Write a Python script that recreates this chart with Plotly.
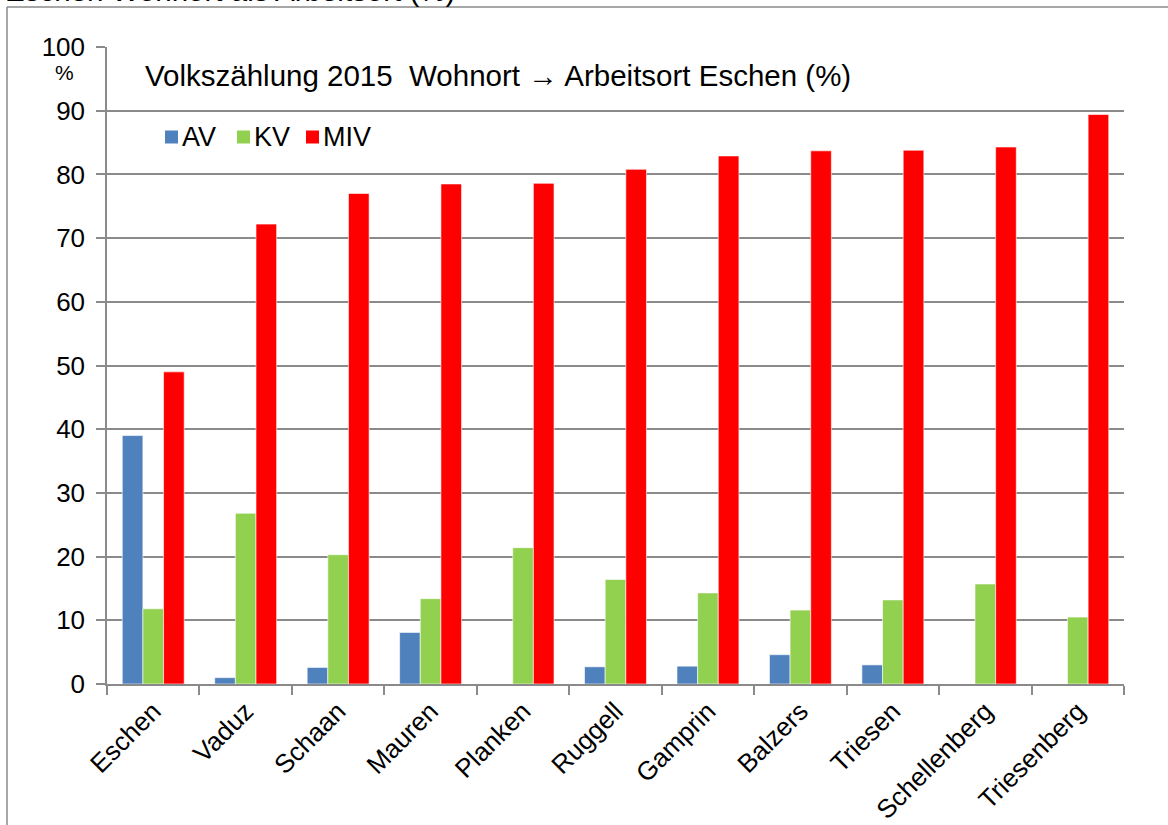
import plotly.graph_objects as go

# Gemeinden (Wohnort) und Anteile nach Verkehrsmittel in %
gemeinden = ["Eschen", "Vaduz", "Schaan", "Mauren", "Planken", "Ruggell",
             "Gamprin", "Balzers", "Triesen", "Schellenberg", "Triesenberg"]
av = [39.0, 1.0, 2.6, 8.1, 0.0, 2.7, 2.8, 4.6, 3.0, 0.0, 0.0]
kv = [11.8, 26.8, 20.3, 13.4, 21.4, 16.4, 14.3, 11.6, 13.2, 15.7, 10.5]
miv = [49.0, 72.2, 77.0, 78.5, 78.6, 80.8, 82.9, 83.7, 83.8, 84.3, 89.4]

serien = [("AV", av, "#4F81BD"), ("KV", kv, "#92D050"), ("MIV", miv, "#FF0000")]

W, H = 1168, 825
# plot area in pixels: x 107..1124, y 47..684
L, T = 107, 47
R, B = W - 1124, H - 684
pw, ph = W - L - R, H - T - B


def px(x):
    return (x - L) / pw


def py(y):
    return (H - B - y) / ph


FONT = "Liberation Sans, Arial, sans-serif"
GRID = "#8A8A8A"

fig = go.Figure()
for name, vals, col in serien:
    fig.add_trace(
        go.Bar(
            x=gemeinden,
            y=vals,
            name=name,
            marker=dict(color=col, line=dict(color="rgba(255,255,255,0.6)", width=1)),
            showlegend=False,
        )
    )

fig.update_layout(
    width=W,
    height=H,
    margin=dict(l=L, r=R, t=T, b=B),
    paper_bgcolor="white",
    plot_bgcolor="white",
    barmode="group",
    bargap=0.33,
    bargroupgap=0,
    font=dict(family=FONT, size=26, color="black"),
)

fig.update_yaxes(
    range=[0, 100],
    dtick=10,
    showgrid=True,
    gridcolor=GRID,
    gridwidth=1.5,
    showline=True,
    linecolor=GRID,
    linewidth=1.5,
    ticks="outside",
    ticklen=9,
    tickcolor=GRID,
    tickwidth=1.5,
    ticklabelstandoff=6,
    tickfont=dict(size=26),
    zeroline=False,
    automargin=False,
)
fig.update_xaxes(
    showline=True,
    linecolor=GRID,
    linewidth=1.5,
    ticks="outside",
    tickson="boundaries",
    ticklen=9,
    tickcolor=GRID,
    tickwidth=1.5,
    tickangle=-45,
    tickfont=dict(size=26),
    automargin=False,
)

# Legende (wie im Original: kleine Quadrate direkt vor dem Text)
fig.add_shape(type="rect", xref="paper", yref="paper", layer="between",
              x0=px(149), x1=px(379), y0=py(100), y1=py(162),
              fillcolor="white", line=dict(width=0))
leg_x = [165, 237, 306]
for (name, _, col), x0 in zip(serien, leg_x):
    fig.add_shape(type="rect", xref="paper", yref="paper",
                  x0=px(x0), x1=px(x0 + 13), y0=py(143.5), y1=py(130.5),
                  fillcolor=col, line=dict(width=0))
    fig.add_annotation(text=name, xref="paper", yref="paper",
                       x=px(x0 + 15), y=py(137), xanchor="left", yanchor="middle",
                       showarrow=False, font=dict(size=27))

# Titel im Diagramm
fig.add_annotation(
    text="Volkszählung 2015  Wohnort \u2192 Arbeitsort Eschen (%)",
    xref="paper", yref="paper", x=px(143), y=py(76),
    xanchor="left", yanchor="middle", showarrow=False,
    font=dict(size=29.5),
)
# Einheit unter der 100
fig.add_annotation(
    text="%", xref="paper", yref="paper", x=px(64), y=py(72),
    xanchor="center", yanchor="middle", showarrow=False,
    font=dict(size=21),
)
# abgeschnittener Text oberhalb des Rahmens
fig.add_annotation(
    text="Eschen Wohnort als Arbeitsort (%)",
    xref="paper", yref="paper", x=px(3), y=py(9),
    xanchor="left", yanchor="bottom", showarrow=False,
    font=dict(size=29.5),
)

# Rahmen links und oben
fig.add_shape(type="line", xref="paper", yref="paper",
              x0=px(7), y0=py(7), x1=px(W + 20), y1=py(7),
              line=dict(color=GRID, width=1.5))
fig.add_shape(type="line", xref="paper", yref="paper",
              x0=px(7), y0=py(7), x1=px(7), y1=py(H + 20),
              line=dict(color=GRID, width=1.5))

# Seitenrand des HTML-Body entfernen, damit die Grafik bei (0,0) beginnt
fig.write_html(
    "out.html",
    config={"displayModeBar": False},
    post_script="document.body.style.margin='0px';",
)
